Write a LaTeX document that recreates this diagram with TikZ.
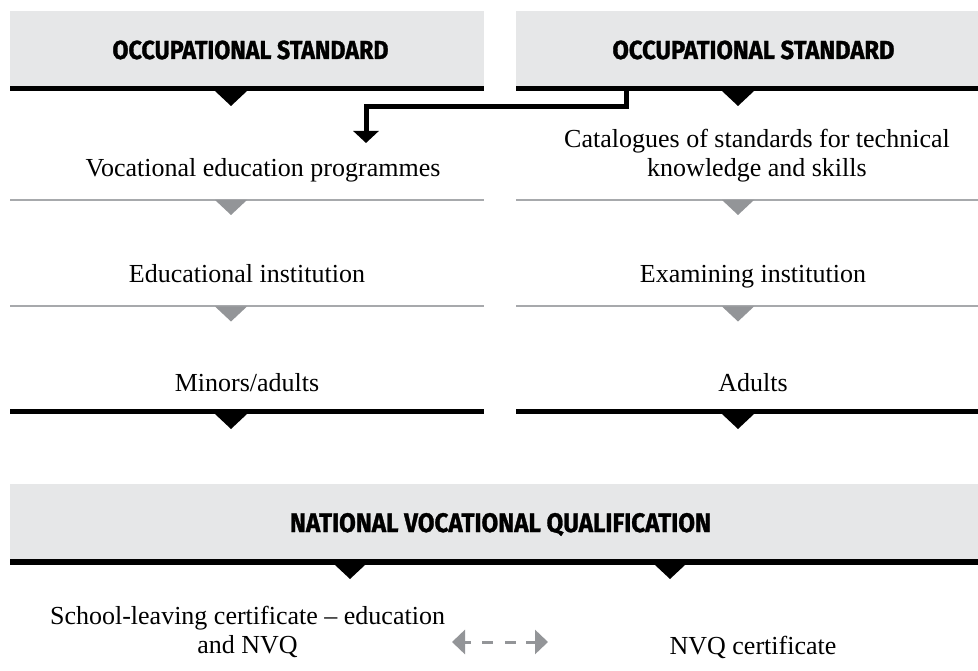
\documentclass[tikz,border=0pt]{standalone}
\usepackage{fontspec}
\setmainfont{Liberation Serif}
\newfontfamily\headfont{Fira Sans}[BoldFeatures={FakeBold=1.2}]
\usetikzlibrary{arrows.meta,calc}
\definecolor{boxgrey}{HTML}{E6E7E8}
\definecolor{linegrey}{HTML}{A7A9AC}
\definecolor{trigrey}{HTML}{939598}
\newcommand\downtri[4]{\fill[#1] (#2-#4,#3) -- (#2+#4,#3) -- (#2,#3+#4-1) -- cycle;}
\begin{document}
\begin{tikzpicture}[x=1pt,y=-1pt,
  headbox/.style={fill=boxgrey, draw=none, anchor=north west, inner sep=0pt},
  blackrule/.style={fill=black},
  thinrule/.style={draw=linegrey, line width=2pt},
  headtext/.style={anchor=base, inner sep=0pt},
  bodytext/.style={font=\fontsize{26}{29}\selectfont, anchor=base, align=center, inner sep=0pt},
  conn/.style={line width=5pt, line join=miter, -{Triangle[width=25pt,length=12pt]}},
  dashconn/.style={draw=trigrey, line width=3pt, dash pattern=on 7pt off 11pt on 11pt off 12pt on 11pt off 10pt on 20pt,
     {Triangle[width=24pt,length=13pt]}-{Triangle[width=24pt,length=13pt]}, trigrey}
]
\useasboundingbox (0,0) rectangle (978,671);
\fill[white] (0,0) rectangle (978,671);

% top boxes
\node[headbox, minimum width=474pt, minimum height=75pt] (lb) at (10,11) {};
\node[headbox, minimum width=462pt, minimum height=75pt] (rb) at (516,11) {};
\node[headtext] (lbt) at (250.5,59) {\resizebox{276pt}{18.5pt}{\headfont\bfseries OCCUPATIONAL STANDARD}};
\node[headtext] (rbt) at (753.5,59) {\resizebox{282pt}{18.5pt}{\headfont\bfseries OCCUPATIONAL STANDARD}};
\fill[blackrule] (lb.south west) rectangle ($(lb.south east)+(0,5)$);
\fill[blackrule] (rb.south west) rectangle ($(rb.south east)+(0,5)$);
\downtri{black}{231}{91}{16}
\downtri{black}{738}{91}{16}

% connector from right standard to left programmes
\coordinate (cs) at (626.5,91);
\coordinate (ct) at (366,106.5);
\coordinate (ce) at (366,143);
\draw[conn] (cs) |- (ct) -- (ce);

% row 1
\node[bodytext] (vep) at (263,177) {Vocational education programmes};
\node[bodytext] (cat) at (757,177) {Catalogues of standards for technical\\knowledge and skills};
\draw[thinrule] (10,200) -- (484,200);
\draw[thinrule] (516,200) -- (978,200);
\downtri{trigrey}{231}{200}{16}
\downtri{trigrey}{738}{200}{16}

% row 2
\node[bodytext] (edu) at (247,283) {Educational institution};
\node[bodytext] (exa) at (753,283) {Examining institution};
\draw[thinrule] (10,306.5) -- (484,306.5);
\draw[thinrule] (516,306.5) -- (978,306.5);
\downtri{trigrey}{231}{306.5}{16}
\downtri{trigrey}{738}{306.5}{16}

% row 3
\node[bodytext] (min) at (247,391) {Minors/adults};
\node[bodytext] (adu) at (753,391) {Adults};
\fill[blackrule] (10,409) rectangle (484,414);
\fill[blackrule] (516,409) rectangle (978,414);
\downtri{black}{231}{414}{16}
\downtri{black}{738}{414}{16}

% NVQ box
\node[headbox, minimum width=968pt, minimum height=75pt] (nb) at (10,484) {};
\node[headtext] (nbt) at (500.5,532) {\resizebox{421pt}{19pt}{\headfont\bfseries NATIONAL VOCATIONAL QUALIFICATION}};
\fill[blackrule] (nb.south west) rectangle ($(nb.south east)+(0,6)$);
\downtri{black}{350}{565}{15}
\downtri{black}{670}{565}{15}

% bottom texts
\node[bodytext] (slc) at (247.5,653) {School-leaving certificate -- education\\and NVQ};
\node[bodytext] (nvq) at (753,654) {NVQ certificate};
\coordinate (dl) at (452,642);
\coordinate (dr) at (548,642);
\draw[dashconn] (dl) -- (dr);
\end{tikzpicture}
\end{document}
